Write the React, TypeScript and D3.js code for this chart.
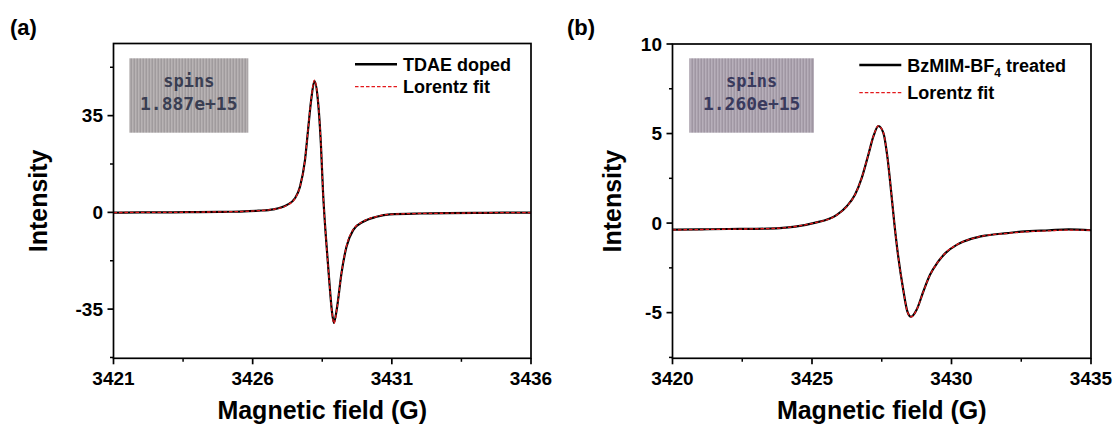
import React from 'react';
import * as d3 from 'd3';

// ---------- Panel (a) data ----------
const fieldA = [3421, 3422, 3423, 3424, 3425, 3425.54, 3426.2, 3426.74, 3427.22, 3427.52, 3427.7, 3427.88, 3427.99, 3428.1, 3428.22, 3428.34, 3428.45, 3428.53, 3428.63, 3428.75, 3428.85, 3428.92, 3429.03, 3429.19, 3429.37, 3429.61, 3429.97, 3430.45, 3430.93, 3432, 3433, 3434, 3435, 3436];
const tdaeDoped = [-0.1, 0, 0, 0.1, 0.2, 0.3, 0.6, 1.1, 2.6, 5.1, 9.3, 18.9, 29.8, 40.5, 47.5, 41.0, 25, 6.9, -8.8, -24.5, -36.0, -40.0, -34.5, -22.1, -12.4, -6.4, -3.4, -1.6, -0.7, -0.4, -0.3, -0.2, -0.1, -0.1];
const lorentzA = [-0.1, 0, 0, 0.1, 0.2, 0.3, 0.6, 1.1, 2.5, 5.0, 9.3, 19.0, 30.0, 40.8, 47.8, 41.2, 25.2, 6.9, -8.8, -24.6, -36.2, -40.2, -34.6, -22.0, -12.2, -6.2, -3.3, -1.5, -0.7, -0.4, -0.3, -0.2, -0.1, -0.1];
const xTicksA = [3421, 3426, 3431, 3436];
const xMinorA = [3423.5, 3428.5, 3433.5];
const yTicksA = [-35, 0, 35];
const yMinorA = [-52.5, -17.5, 17.5, 52.5];

// ---------- Panel (b) data ----------
const fieldB = [3420, 3421, 3422, 3423, 3423.85, 3424.4, 3425.05, 3425.89, 3426.24, 3426.54, 3426.78, 3427.02, 3427.2, 3427.38, 3427.56, 3427.7, 3427.83, 3427.95, 3428.09, 3428.27, 3428.42, 3428.55, 3428.75, 3428.99, 3429.23, 3429.5, 3429.8, 3430.2, 3430.7, 3431.2, 3432, 3432.5, 3433.5, 3434.2, 3435];
const bzmimTreated = [-0.37, -0.35, -0.33, -0.32, -0.28, -0.2, 0.0, 0.46, 0.93, 1.58, 2.51, 3.82, 4.84, 5.42, 5.03, 3.72, 1.86, 0, -1.86, -3.72, -4.94, -5.23, -4.84, -3.82, -2.89, -2.2, -1.65, -1.2, -0.88, -0.7, -0.56, -0.48, -0.4, -0.35, -0.4];
const lorentzB = [-0.38, -0.36, -0.34, -0.32, -0.28, -0.19, 0.0, 0.45, 0.92, 1.58, 2.52, 3.83, 4.85, 5.43, 5.04, 3.72, 1.86, 0, -1.86, -3.73, -4.95, -5.24, -4.85, -3.83, -2.9, -2.2, -1.64, -1.2, -0.88, -0.7, -0.57, -0.5, -0.43, -0.39, -0.4];
const xTicksB = [3420, 3425, 3430, 3435];
const xMinorB = [3422.5, 3427.5, 3432.5];
const yTicksB = [-5, 0, 5, 10];
const yMinorB = [-7.5, -2.5, 2.5, 7.5];

const FONT = 'Arial, "Liberation Sans", sans-serif';
const MONO = '"DejaVu Sans Mono", "Liberation Mono", monospace';
const RED = '#e3191c';

type PanelProps = {
  left: number; right: number; top: number; bottom: number;
  xDomain: [number, number]; yDomain: [number, number];
  xs: number[]; data: number[]; fit: number[];
  xTicks: number[]; xMinor: number[]; yTicks: number[]; yMinor: number[];
  label: string; labelX: number;
  legendName: React.ReactNode; legendX: number; legendY1: number; legendY2: number;
  boxX: number; boxW: number; spins: string; boxFill: string; textColor: string;
  ylabelX: number;
};

function Panel(p: PanelProps) {
  const x = d3.scaleLinear().domain(p.xDomain).range([p.left, p.right]);
  const y = d3.scaleLinear().domain(p.yDomain).range([p.bottom, p.top]);
  const line = d3.line<number>()
    .x((_, i) => x(p.xs[i]))
    .y((d) => y(d))
    .curve(d3.curveMonotoneX);
  const cx = (p.left + p.right) / 2;
  const cy = (p.top + p.bottom) / 2;
  const bcx = p.boxX + p.boxW / 2;
  return (
    <g>
      <text x={p.labelX} y={35} fontFamily={FONT} fontWeight="bold" fontSize={22} fill="#000">{p.label}</text>
      {/* spins box */}
      <rect x={p.boxX} y={58.3} width={p.boxW} height={74.4} fill={p.boxFill} />
      <text x={bcx} y={86.5} textAnchor="middle" fontFamily={MONO} fontWeight="bold" fontSize={17} fill={p.textColor} opacity={0.85}>spins</text>
      <text x={bcx} y={109.5} textAnchor="middle" fontFamily={MONO} fontWeight="bold" fontSize={18} fill={p.textColor} opacity={0.85}>{p.spins}</text>
      {/* curves */}
      <path d={line(p.data) || ''} fill="none" stroke="#000" strokeWidth={2.2} />
      <path d={line(p.fit) || ''} fill="none" stroke={RED} strokeWidth={1.3} strokeDasharray="3.5,2" />
      {/* frame */}
      <rect x={p.left} y={p.top} width={p.right - p.left} height={p.bottom - p.top} fill="none" stroke="#000" strokeWidth={1.7} />
      {/* x ticks */}
      {p.xTicks.map((t) => (
        <g key={'xt' + t}>
          <line x1={x(t)} x2={x(t)} y1={p.bottom} y2={p.bottom + 6} stroke="#000" strokeWidth={1.7} />
          <text x={x(t)} y={385} textAnchor="middle" fontFamily={FONT} fontWeight="bold" fontSize={19} fill="#000">{t}</text>
        </g>
      ))}
      {p.xMinor.map((t) => (
        <line key={'xm' + t} x1={x(t)} x2={x(t)} y1={p.bottom} y2={p.bottom + 3.5} stroke="#000" strokeWidth={1.5} />
      ))}
      {p.yTicks.map((t) => (
        <g key={'yt' + t}>
          <line x1={p.left - 6} x2={p.left} y1={y(t)} y2={y(t)} stroke="#000" strokeWidth={1.7} />
          <text x={p.left - 10.5} y={y(t) + 6.8} textAnchor="end" fontFamily={FONT} fontWeight="bold" fontSize={19} fill="#000">{t}</text>
        </g>
      ))}
      {p.yMinor.map((t) => (
        <line key={'ym' + t} x1={p.left - 3.5} x2={p.left} y1={y(t)} y2={y(t)} stroke="#000" strokeWidth={1.5} />
      ))}
      {/* axis titles */}
      <text x={cx} y={419} textAnchor="middle" fontFamily={FONT} fontWeight="bold" fontSize={25} fill="#000">Magnetic field (G)</text>
      <text transform={`translate(${p.ylabelX},${cy}) rotate(-90)`} textAnchor="middle" fontFamily={FONT} fontWeight="bold" fontSize={25} fill="#000">Intensity</text>
      {/* legend */}
      <line x1={p.legendX} x2={p.legendX + 42} y1={p.legendY1} y2={p.legendY1} stroke="#000" strokeWidth={2.4} />
      <text x={p.legendX + 48} y={p.legendY1 + 6.5} fontFamily={FONT} fontWeight="bold" fontSize={18} fill="#000">{p.legendName}</text>
      <line x1={p.legendX} x2={p.legendX + 42} y1={p.legendY2} y2={p.legendY2} stroke={RED} strokeWidth={1.3} strokeDasharray="3.5,2" />
      <text x={p.legendX + 48} y={p.legendY2 + 6.5} fontFamily={FONT} fontWeight="bold" fontSize={18} fill="#000">Lorentz fit</text>
    </g>
  );
}

export default function App() {
  return (
    <svg width={1118} height={427} style={{ position: 'absolute', left: 0, top: 0, background: '#fff' }}>
      <defs>
        <pattern id="stripesA" width="3" height="4" patternUnits="userSpaceOnUse">
          <rect width="3" height="4" fill="#aca7a9" />
          <rect x="0" width="1" height="4" fill="#b8b3b4" />
          <rect x="2" width="1" height="4" fill="#a09b9d" />
        </pattern>
        <pattern id="stripesB" width="3" height="4" patternUnits="userSpaceOnUse">
          <rect width="3" height="4" fill="#aba2ae" />
          <rect x="0" width="1" height="4" fill="#b7afba" />
          <rect x="2" width="1" height="4" fill="#9f96a2" />
        </pattern>
      </defs>
      <Panel
        left={113.5} right={531} top={43.5} bottom={358.3}
        xDomain={[3421, 3436]} yDomain={[-52.8, 61.1]}
        xs={fieldA} data={tdaeDoped} fit={lorentzA}
        xTicks={xTicksA} xMinor={xMinorA} yTicks={yTicksA} yMinor={yMinorA}
        label="(a)" labelX={10}
        legendName="TDAE doped" legendX={355} legendY1={64.3} legendY2={86.7}
        boxX={129.3} boxW={119} spins="1.887e+15" boxFill="url(#stripesA)" textColor="#262c44"
        ylabelX={47}
      />
      <Panel
        left={672.5} right={1091} top={44} bottom={358.3}
        xDomain={[3420, 3435]} yDomain={[-7.55, 10]}
        xs={fieldB} data={bzmimTreated} fit={lorentzB}
        xTicks={xTicksB} xMinor={xMinorB} yTicks={yTicksB} yMinor={yMinorB}
        label="(b)" labelX={567}
        legendName={<>BzMIM-BF<tspan fontSize={12} dy={5}>4</tspan><tspan dy={-5}> treated</tspan></>}
        legendX={859.3} legendY1={65} legendY2={92.7}
        boxX={689.3} boxW={124.7} spins="1.260e+15" boxFill="url(#stripesB)" textColor="#262850"
        ylabelX={621}
      />
    </svg>
  );
}
